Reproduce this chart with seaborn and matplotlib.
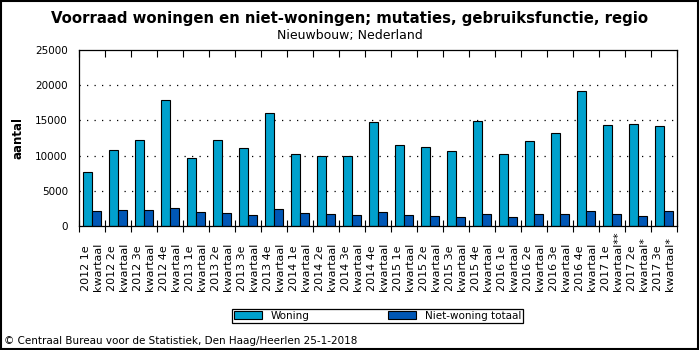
import numpy as np
import pandas as pd
import matplotlib
matplotlib.use("Agg")
import matplotlib.pyplot as plt
import matplotlib.transforms as mtransforms
from matplotlib.patches import Rectangle
import seaborn as sns

# ---- data ----
kwartalen = ["2012 1e\nkwartaal", "2012 2e\nkwartaal", "2012 3e\nkwartaal", "2012 4e\nkwartaal",
             "2013 1e\nkwartaal", "2013 2e\nkwartaal", "2013 3e\nkwartaal", "2013 4e\nkwartaal",
             "2014 1e\nkwartaal", "2014 2e\nkwartaal", "2014 3e\nkwartaal", "2014 4e\nkwartaal",
             "2015 1e\nkwartaal", "2015 2e\nkwartaal", "2015 3e\nkwartaal", "2015 4e\nkwartaal",
             "2016 1e\nkwartaal", "2016 2e\nkwartaal", "2016 3e\nkwartaal", "2016 4e\nkwartaal",
             "2017 1e\nkwartaal**", "2017 2e\nkwartaal*", "2017 3e\nkwartaal*"]
woning = [7670, 10800, 12200, 17900, 9660, 12200, 11080, 16050, 10230, 9950, 9950, 14770,
          11500, 11220, 10650, 14960, 10230, 12070, 13210, 19180, 14350, 14490, 14200]
niet_woning = [2130, 2270, 2270, 2560, 1990, 1850, 1560, 2410, 1850, 1700, 1560, 1990,
               1560, 1420, 1280, 1700, 1280, 1700, 1700, 2130, 1700, 1420, 2130]
series_names = ["Woning", "Niet-woning totaal"]
yticks = [0, 5000, 10000, 15000, 20000, 25000]

title = "Voorraad woningen en niet-woningen; mutaties, gebruiksfunctie, regio"
subtitle = "Nieuwbouw; Nederland"
ylabel = "aantal"
footer = "© Centraal Bureau voor de Statistiek, Den Haag/Heerlen 25-1-2018"

df = pd.DataFrame({
    "kwartaal": kwartalen * 2,
    "aantal": woning + niet_woning,
    "type": [series_names[0]] * len(kwartalen) + [series_names[1]] * len(kwartalen),
})

# ---- style ----
sns.set_style("white")
plt.rcParams["font.family"] = ["DejaVu Sans"]
for k in ["text.color", "axes.labelcolor", "xtick.color", "ytick.color", "axes.edgecolor"]:
    plt.rcParams[k] = "black"

W, H = 700, 350
fig = plt.figure(figsize=(7, 3.5), dpi=100)
ax = fig.add_axes([79 / W, 1 - 226 / H, (677 - 79) / W, (226 - 50) / H])

colors = ["#00A1CD", "#0057B6"]
sns.barplot(data=df, x="kwartaal", y="aantal", hue="type", hue_order=series_names,
            order=kwartalen, palette=colors, width=0.72, gap=0.1,
            edgecolor="black", linewidth=0.8, saturation=1, ax=ax, legend=True)

n = len(kwartalen)
ax.set_xlim(-0.5, n - 0.5)
ax.set_ylim(0, 25000)
ax.set_yticks(yticks)
ax.set_yticklabels([str(v) for v in yticks], fontsize=7.5)
ax.tick_params(axis="y", direction="inout", length=6, width=0.8, pad=5, colors="black")

# x: category boundary ticks (minor), no major ticks
ax.set_xticks(np.arange(n))
ax.set_xticklabels([""] * n)
ax.tick_params(axis="x", which="major", length=0)
ax.set_xticks(np.arange(-0.5, n), minor=True)
ax.tick_params(axis="x", which="minor", direction="inout", length=8, width=0.8, bottom=True)
sec = ax.secondary_xaxis("top")
sec.set_xticks(np.arange(-0.5, n))
sec.tick_params(direction="in", length=5, width=0.8, labeltop=False)
sec.spines["top"].set_visible(False)

# rotated category labels, bottom aligned
trans = mtransforms.blended_transform_factory(ax.transData, fig.transFigure)
for i, lab in enumerate(kwartalen):
    ax.text(i, 1 - 291 / H, lab, rotation=90, ha="center", va="bottom",
            multialignment="left", fontsize=8, linespacing=1.3, transform=trans)

ax.set_xlabel("")
ax.set_ylabel("")
for s in ax.spines.values():
    s.set_visible(True)
    s.set_color("black")
    s.set_linewidth(0.9)

# dotted grid
for v in yticks[1:-1]:
    ax.axhline(v, color="black", linewidth=0.9, linestyle=(0, (1, 5)), zorder=0.5)

# legend
handles, labels = ax.get_legend_handles_labels()
ax.get_legend().remove()
leg = fig.legend(handles, labels, loc="center", bbox_to_anchor=(377.5 / W, 1 - 316 / H),
                 ncol=2, fontsize=7.5, frameon=True, fancybox=False, framealpha=1,
                 edgecolor="black", handlelength=2.7, handleheight=0.8, handletextpad=0.8,
                 columnspacing=7.6, borderpad=0.2, borderaxespad=0)
leg.get_frame().set_linewidth(0.9)

# texts
fig.text(0.5, 1 - 18 / H, title, ha="center", va="center", fontsize=10.7, fontweight="bold")
fig.text(0.5, 1 - 36 / H, subtitle, ha="center", va="center", fontsize=9)
fig.text(18 / W, 1 - 138 / H, ylabel, ha="center", va="center", rotation=90,
         fontsize=8.5, fontweight="bold")
fig.text(4 / W, 1 - 341 / H, footer, ha="left", va="center", fontsize=7.5)

# figure border
fig.patches.append(Rectangle((0.001, 0.002), 0.996, 0.996, transform=fig.transFigure,
                             fill=False, edgecolor="black", linewidth=1.5))

fig.savefig("out.png", dpi=100)
